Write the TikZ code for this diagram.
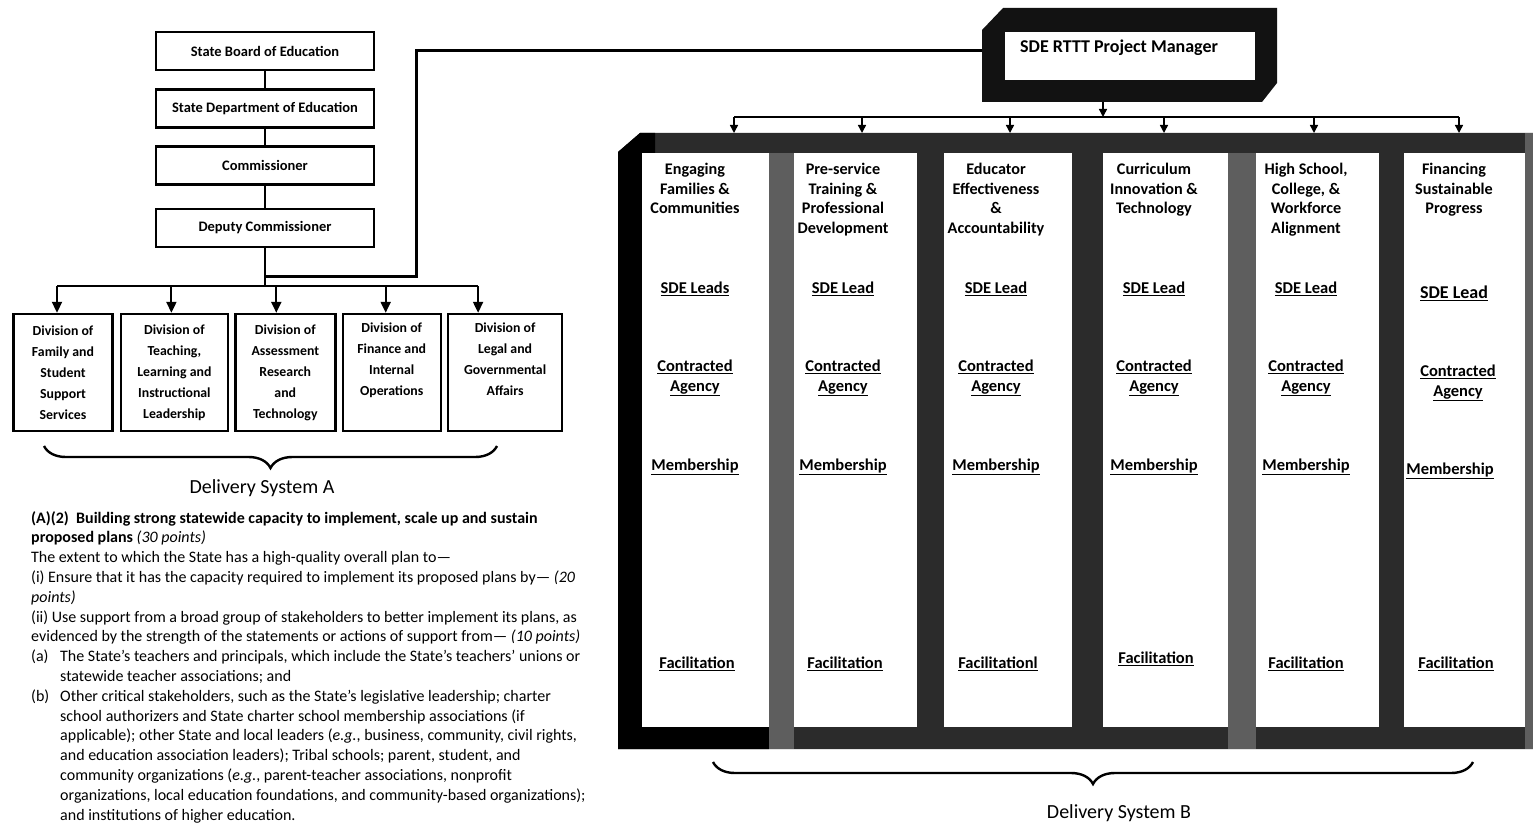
\documentclass[tikz,border=0pt]{standalone}
\usepackage{fontspec}
\setmainfont{Carlito}
\usetikzlibrary{positioning,arrows.meta,decorations.pathreplacing,backgrounds}

\definecolor{framedark}{HTML}{2B2B2B}
\definecolor{framegray}{HTML}{5E5E5E}

\begin{document}
\begin{tikzpicture}[x=1pt,y=-1pt,
  orgbox/.style={draw, rectangle, line width=2.6pt, minimum width=218pt, minimum height=38pt, font=\fontsize{14.5}{16}\selectfont\bfseries},
  divbox/.style={draw, rectangle, line width=2.4pt, minimum height=117pt, inner sep=1pt, align=center, font=\fontsize{13.8}{21}\selectfont\bfseries},
  panel/.style={fill=white, rectangle, inner sep=0pt, anchor=north west},
  head/.style={anchor=north, inner sep=0pt, align=center, font=\fontsize{16.2}{19.5}\selectfont\bfseries},
  tag/.style={inner sep=0pt, align=center, font=\fontsize{16.5}{20}\selectfont\bfseries},
  arr/.style={-{Triangle[length=11pt,width=10pt]}, line width=2pt},
  arrsm/.style={-{Triangle[length=8pt,width=8pt]}, line width=1.4pt},
  brc/.style={decorate, decoration={brace, mirror, amplitude=22pt}, line width=2.4pt},
  caption/.style={inner sep=0pt, font=\fontsize{20}{22}\selectfont}
]
\useasboundingbox (0,0) rectangle (1533,824);

\node[orgbox] (sbe) at (265,51) {State Board of Education};
\node[orgbox, below=17pt of sbe] (sde) {State Department of Education};
\node[orgbox, below=16pt of sde] (comm) {Commissioner};
\node[orgbox, below=22pt of comm] (dep) {Deputy Commissioner};

\draw[line width=1.6pt] (sbe) -- (sde);
\draw[line width=1.6pt] (sde) -- (comm);
\draw[line width=1.6pt] (comm) -- (dep);

\node[divbox, minimum width=99pt] (d1) at (63,372.5) {Division of\\Family and\\Student\\Support\\Services};
\node[divbox, minimum width=107pt, right=6pt of d1] (d2) {Division of\\Teaching,\\Learning and\\Instructional\\Leadership};
\node[divbox, minimum width=100pt, right=5pt of d2] (d3) {Division of\\Assessment\\Research\\and\\Technology};
\node[divbox, minimum width=98pt, right=5pt of d3] (d4) {Division of\\Finance and\\Internal\\Operations\\\strut};
\node[divbox, minimum width=114pt, right=5pt of d4] (d5) {Division of\\Legal and\\Governmental\\Affairs\\\strut};

\coordinate (busA) at (dep.south |- 0,286);
\draw[line width=2.2pt] (dep.south) -- (busA);
\foreach \d/\s in {d1/-6,d2/-3,d3/-9,d4/-6,d5/-27}
  \coordinate (\d top) at ([xshift=\s pt]\d.north);
\draw[line width=2.4pt] (d1top |- busA) -- (d5top |- busA);
\foreach \d in {d1top,d2top,d3top,d4top,d5top}
  \draw[arr] (\d |- busA) -- (\d);

\coordinate (bAl) at (44,446);
\coordinate (bAr) at (497,446);
\draw[brc] (bAl) -- (bAr);
\node[caption] (dsa) at (262,488) {Delivery System A};

\node[anchor=north west, inner sep=0pt, align=left, font=\fontsize{16}{19.8}\selectfont] (req) at (31,511) {%
\textbf{(A)(2)\ \ Building strong statewide capacity to implement, scale up and sustain}\\
\textbf{proposed plans} \textit{(30 points)}\\
The extent to which the State has a high-quality overall plan to---\\
(i) Ensure that it has the capacity required to implement its proposed plans by--- \textit{(20}\\
\textit{points)}\\
(ii) Use support from a broad group of stakeholders to better implement its plans, as\\
evidenced by the strength of the statements or actions of support from--- \textit{(10 points)}\\
\makebox[29pt][l]{(a)}The State's teachers and principals, which include the State’s teachers’ unions or\\
\hspace*{29pt}statewide teacher associations; and\\
\makebox[29pt][l]{(b)}Other critical stakeholders, such as the State’s legislative leadership; charter\\
\hspace*{29pt}school authorizers and State charter school membership associations (if\\
\hspace*{29pt}applicable); other State and local leaders (\textit{e.g.}, business, community, civil rights,\\
\hspace*{29pt}and education association leaders); Tribal schools; parent, student, and\\
\hspace*{29pt}community organizations (\textit{e.g.}, parent-teacher associations, nonprofit\\
\hspace*{29pt}organizations, local education foundations, and community-based organizations);\\
\hspace*{29pt}and institutions of higher education.};

\fill[black!93] (982,30) -- (1003,8) -- (1277,8) -- (1277,83) -- (1262,102) -- (982,102) -- cycle;
\node[panel, minimum width=250pt, minimum height=48pt] (mgr) at (1005,32) {};
\node[anchor=west, inner sep=0pt, font=\fontsize{18}{20}\selectfont\bfseries] (mgrlbl) at (1020,48) {SDE RTTT Project Manager};

\begin{scope}[on background layer]
\coordinate (elbow) at (416,276);
\draw[line width=3pt] ([yshift=6pt]mgr.west) -| (elbow) -- (elbow -| dep.south);
\end{scope}

\fill[framedark] (618,152) -- (640,133) -- (1533,133) -- (1533,749) -- (618,749) -- cycle;
\fill[black] (618,152) -- (640,133) -- (655,133) -- (655,153) -- (642,153) -- (642,727) -- (769,727) -- (769,749) -- (618,749) -- cycle;
\fill[framegray] (769,153) rectangle (794,749);
\fill[framegray] (1228,153) rectangle (1256,749);
\fill[framegray] (1525,133) rectangle (1533,749);

\node[panel, minimum width=127pt, minimum height=574pt] (col1) at (642,153) {};
\node[panel, minimum width=123pt, minimum height=574pt] (col2) at (794,153) {};
\node[panel, minimum width=128pt, minimum height=574pt] (col3) at (944,153) {};
\node[panel, minimum width=125pt, minimum height=574pt] (col4) at (1103,153) {};
\node[panel, minimum width=123pt, minimum height=574pt] (col5) at (1256,153) {};
\node[panel, minimum width=121pt, minimum height=574pt] (col6) at (1404,153) {};

\coordinate (mgrfoot) at (1103,102);
\coordinate (busB) at (1103,117);
\draw[arrsm] (mgrfoot) -- (busB);
\foreach \x [count=\i] in {734,862,1010,1164,1314,1459} {
  \coordinate (b\i) at (\x,117);
  \coordinate (t\i) at (\x,133);
  \draw[arrsm] (b\i) -- (t\i);
}
\draw[line width=1.5pt] (b1) -- (b6);

\node[head] (h1) at (695,163) {Engaging\\Families \&\\Communities};
\node[head] (h2) at (843,163) {Pre-service\\Training \&\\Professional\\Development};
\node[head] (h3) at (996,163) {Educator\\Effectiveness\\\&\\Accountability};
\node[head] (h4) at (1154,163) {Curriculum\\Innovation \&\\Technology};
\node[head] (h5) at (1306,163) {High School,\\College, \&\\Workforce\\Alignment};
\node[head] (h6) at (1454,163) {Financing\\Sustainable\\Progress};

\node[tag] (l1) at (695,289) {\underline{SDE Leads}};
\foreach \x [count=\i from 2] in {843,996,1154,1306}
  \node[tag] (l\i) at (\x,289) {\underline{SDE Lead}};
\node[tag, font=\fontsize{18}{20}\selectfont\bfseries] (l6) at (1454,293) {\underline{SDE Lead}};

\foreach \x [count=\i] in {695,843,996,1154,1306}
  \node[tag] (a\i) at (\x,378) {\underline{Contracted}\\\underline{Agency}};
\node[tag] (a6) at (1458,383) {\underline{Contracted}\\\underline{Agency}};

\foreach \x [count=\i] in {695,843,996,1154,1306}
  \node[tag] (m\i) at (\x,467) {\underline{Membership}};
\node[tag] (m6) at (1450,471) {\underline{Membership}};

\node[tag] (f1) at (697,664) {\underline{Facilitation}};
\node[tag] (f2) at (845,664) {\underline{Facilitation}};
\node[tag] (f3) at (998,664) {\underline{Facilitationl}};
\node[tag] (f4) at (1156,659) {\underline{Facilitation}};
\node[tag] (f5) at (1306,664) {\underline{Facilitation}};
\node[tag] (f6) at (1456,664) {\underline{Facilitation}};

\coordinate (bBl) at (713,762);
\coordinate (bBr) at (1473,762);
\draw[brc] (bBl) -- (bBr);
\node[caption] (dsb) at (1119,813) {Delivery System B};
\end{tikzpicture}
\end{document}
